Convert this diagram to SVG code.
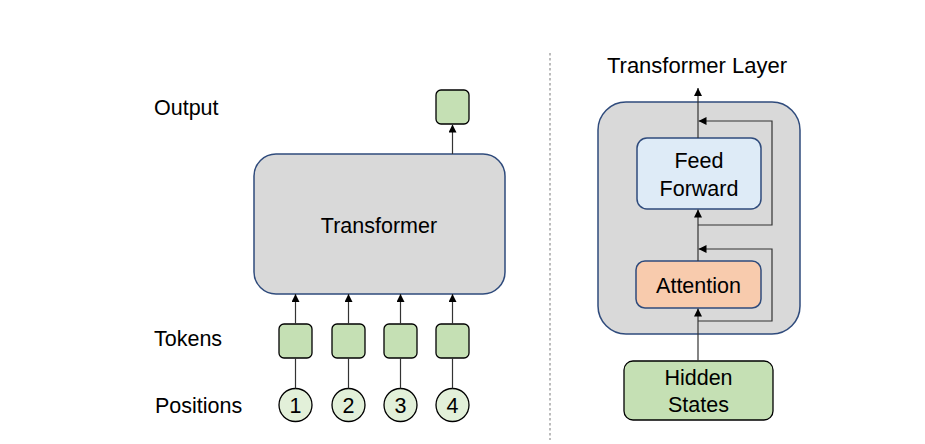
<svg xmlns="http://www.w3.org/2000/svg" width="925" height="444" viewBox="0 0 925 444">
<style>
text{font-family:"Liberation Sans",Arial,sans-serif;font-size:21.5px;fill:#000}
.lbl{text-anchor:start}
.c{text-anchor:middle}
.tok{fill:#C5E0B4;stroke:#000;stroke-width:1.3}
.pos{fill:#E2F0D9;stroke:#000;stroke-width:1.3}
.big{fill:#D9D9D9;stroke:#2F4B7C;stroke-width:1.5}
.ln{stroke:#333;stroke-width:1.2;fill:none}
</style>
<defs>
<marker id="ah" viewBox="0 0 10 10" refX="10" refY="5" markerWidth="8" markerHeight="8" markerUnits="userSpaceOnUse" orient="auto">
<path d="M0,0 L10,5 L0,10 z" fill="#000"/>
</marker>
</defs>
<rect width="925" height="444" fill="#fff"/>
<line x1="550" y1="53" x2="550" y2="440" stroke="#999" stroke-width="1.3" stroke-dasharray="2.5,2.5"/>
<g id="labels">
<text class="lbl" x="154" y="115">Output</text>
<text class="lbl" x="154" y="346">Tokens</text>
<text class="lbl" x="155" y="413">Positions</text>
</g>
<g id="transformer">
<rect class="big" x="254" y="154" width="251" height="140" rx="22"/>
<text class="c" x="379" y="233">Transformer</text>
</g>
<g id="output"><rect class="tok" x="436" y="90" width="33" height="34" rx="5"/></g>
<g id="token1"><rect class="tok" x="279" y="324" width="33" height="34" rx="5"/></g>
<g id="token2"><rect class="tok" x="332" y="324" width="33" height="34" rx="5"/></g>
<g id="token3"><rect class="tok" x="384" y="324" width="33" height="34" rx="5"/></g>
<g id="token4"><rect class="tok" x="436" y="324" width="33" height="34" rx="5"/></g>
<g id="pos1"><circle class="pos" cx="295.5" cy="405" r="16.5"/><text class="c" x="295.5" y="413">1</text></g>
<g id="pos2"><circle class="pos" cx="348.5" cy="405" r="16.5"/><text class="c" x="348.5" y="413">2</text></g>
<g id="pos3"><circle class="pos" cx="400.5" cy="405" r="16.5"/><text class="c" x="400.5" y="413">3</text></g>
<g id="pos4"><circle class="pos" cx="452.5" cy="405" r="16.5"/><text class="c" x="452.5" y="413">4</text></g>
<g id="layer-title"><text class="c" x="697" y="73" style="font-size:22px">Transformer Layer</text></g>
<g id="layer"><rect class="big" x="598" y="102" width="202" height="232" rx="28"/></g>
<g id="feedforward">
<rect x="637" y="138" width="124" height="71" rx="10" fill="#DEEBF7" stroke="#2F4B7C" stroke-width="1.5"/>
<text class="c" x="699" y="168">Feed</text>
<text class="c" x="699" y="196">Forward</text>
</g>
<g id="attention">
<rect x="636" y="261" width="125" height="47" rx="9" fill="#F8CBAD" stroke="#2F4B7C" stroke-width="1.5"/>
<text class="c" x="698.5" y="293">Attention</text>
</g>
<g id="hidden">
<rect x="624" y="361" width="149" height="59" rx="9" fill="#C5E0B4" stroke="#000" stroke-width="1.3"/>
<text class="c" x="698.5" y="385">Hidden</text>
<text class="c" x="698.5" y="412">States</text>
</g>
<g id="connectors">
<line class="ln" x1="452.5" y1="154" x2="452.5" y2="124.5" marker-end="url(#ah)"/>
<line class="ln" x1="295.5" y1="324" x2="295.5" y2="294" marker-end="url(#ah)"/>
<line class="ln" x1="348.5" y1="324" x2="348.5" y2="294" marker-end="url(#ah)"/>
<line class="ln" x1="400.5" y1="324" x2="400.5" y2="294" marker-end="url(#ah)"/>
<line class="ln" x1="452.5" y1="324" x2="452.5" y2="294" marker-end="url(#ah)"/>
<line class="ln" x1="295.5" y1="388.5" x2="295.5" y2="358"/>
<line class="ln" x1="348.5" y1="388.5" x2="348.5" y2="358"/>
<line class="ln" x1="400.5" y1="388.5" x2="400.5" y2="358"/>
<line class="ln" x1="452.5" y1="388.5" x2="452.5" y2="358"/>
<line class="ln" x1="698" y1="361" x2="698" y2="308.5" marker-end="url(#ah)"/>
<line class="ln" x1="698" y1="261" x2="698" y2="209.5" marker-end="url(#ah)"/>
<line class="ln" x1="698" y1="138" x2="698" y2="88" marker-end="url(#ah)"/>
<polyline class="ln" points="698,321 772,321 772,249 698.5,249" marker-end="url(#ah)"/>
<polyline class="ln" points="698,225 772,225 772,121 698.5,121" marker-end="url(#ah)"/>
</g>
</svg>
